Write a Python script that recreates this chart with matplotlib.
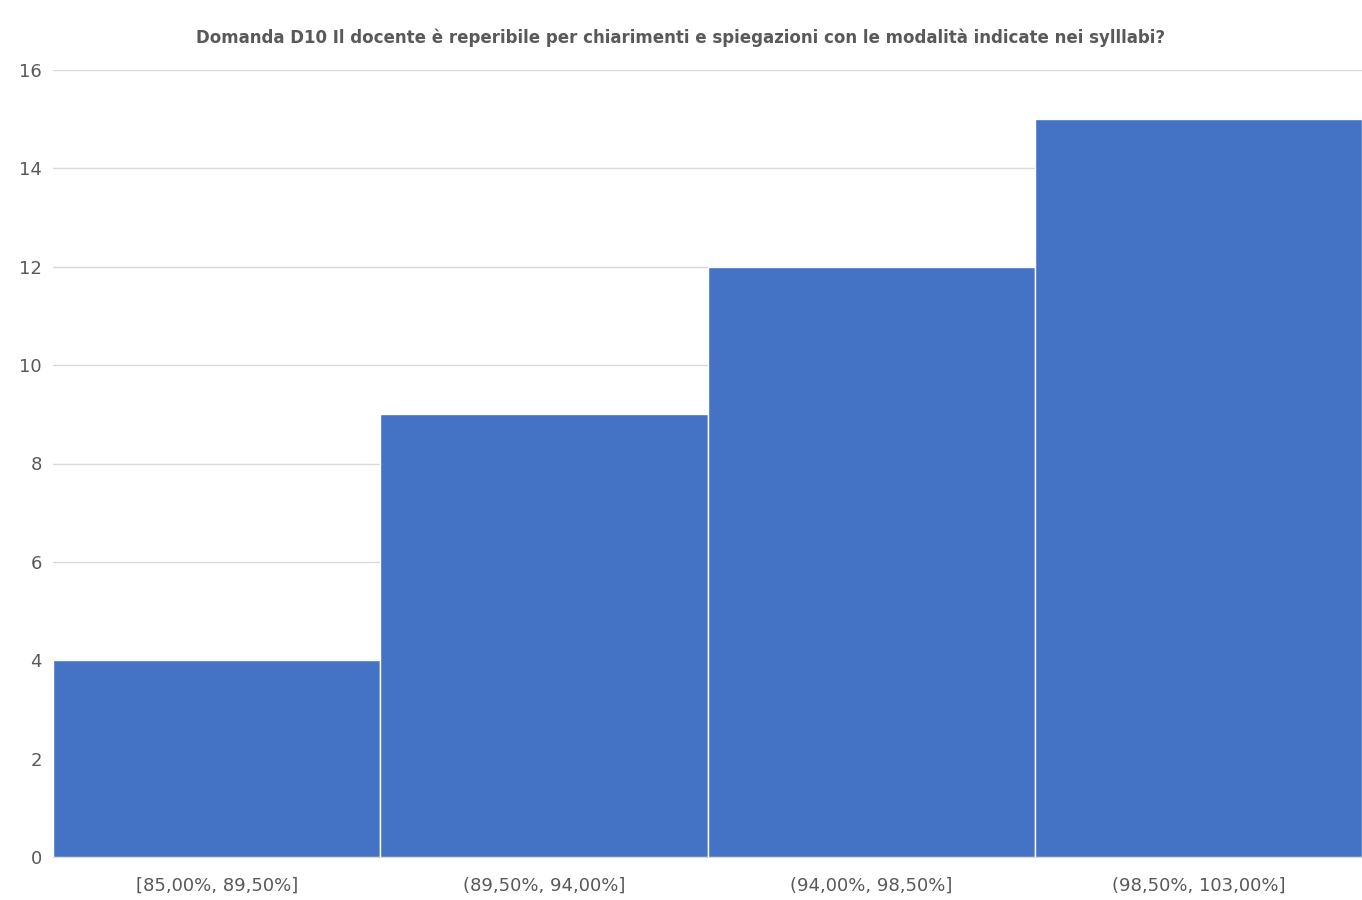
import matplotlib
matplotlib.use("Agg")
import matplotlib.pyplot as plt

categories = ["[85,00%, 89,50%]", "(89,50%, 94,00%]", "(94,00%, 98,50%]", "(98,50%, 103,00%]"]
counts = [4, 9, 12, 15]
yticks = [0, 2, 4, 6, 8, 10, 12, 14, 16]

fig = plt.figure(figsize=(13.62, 9), dpi=100)
ax = fig.add_axes([53/1362, 1-857/900, 1-53/1362, (857-70)/900])
ax.bar(range(len(categories)), counts, width=1.0, color="#4472C4", edgecolor="white", linewidth=1, zorder=3)
ax.set_xlim(-0.5, len(categories)-0.5)
ax.set_ylim(0, 16)
ax.set_yticks(yticks)
ax.set_xticks(range(len(categories)))
ax.set_xticklabels(categories)
ax.tick_params(axis="both", length=0, labelsize=13, labelcolor="#595959", pad=8)
ax.tick_params(axis="x", pad=14)
ax.grid(axis="y", color="#D9D9D9", linewidth=1, zorder=0)
for s in ["top", "right"]:
    ax.spines[s].set_visible(False)
ax.spines["left"].set_visible(False)
ax.spines["bottom"].set_color("#D9D9D9")
fig.text(0.5, 1-38/900, "Domanda D10 Il docente è reperibile per chiarimenti e spiegazioni con le modalità indicate nei sylllabi?",
         ha="center", va="center", fontsize=12, fontweight="bold", color="#595959")
fig.savefig("out.png", dpi=100)
